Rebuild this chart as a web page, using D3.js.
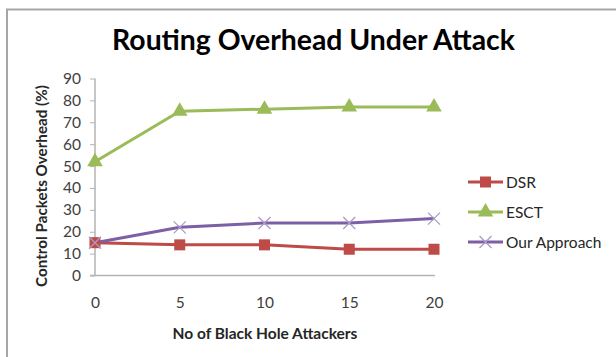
<!DOCTYPE html>
<html><head><meta charset="utf-8">
<script src="https://cdn.jsdelivr.net/npm/d3@7"></script>
<style>body{margin:0;background:#fff}svg{display:block}</style>
</head><body>
<svg id="c" width="616" height="357"></svg>
<script>
const categories = [0, 5, 10, 15, 20];
const dsr = [15, 14, 14, 12, 12];
const esct = [52, 75, 76, 77, 77];
const ourApproach = [15, 22, 24, 24, 26];
const seriesNames = ["DSR", "ESCT", "Our Approach"];
const yTicks = [0, 10, 20, 30, 40, 50, 60, 70, 80, 90];
const titleText = "Routing Overhead Under Attack";
const xTitle = "No of Black Hole Attackers";
const yTitle = "Control Packets Overhead (%)";

const svg = d3.select("#c");
const font = "Lato, 'Open Sans', sans-serif";

// border
svg.append("path").attr("d","M7,357V9.5H616").attr("fill","none")
  .attr("stroke","#a6a6a6").attr("stroke-width",2);

const x = d3.scalePoint().domain(categories).range([95, 434]);
const y = d3.scaleLinear().domain([0, 90]).range([275.5, 78.5]);

function fitText(sel, w){
  const n = sel.node(); let fs = parseFloat(sel.attr("font-size"));
  const l = n.getComputedTextLength();
  sel.attr("font-size", fs * w / l);
}

// title
const t = svg.append("text").attr("x", 313.5).attr("y", 50).attr("text-anchor","middle")
  .attr("font-family", font).attr("font-weight","bold").attr("font-size",24)
  .attr("fill","#000").text(titleText);
fitText(t, 403);

// axes
const yAxis = d3.axisLeft(y).tickValues(yTicks).tickSize(5).tickPadding(9);
const gy = svg.append("g").attr("transform","translate(95,0)").call(yAxis);
gy.select(".domain").attr("stroke","#b3b3b3").attr("stroke-width",1.5).attr("d","M0,78.5V275.5");
gy.selectAll(".tick line").attr("stroke","#b3b3b3");
gy.selectAll(".tick text").attr("font-family",font).attr("font-size",15.5).attr("fill","#404040");

const xAxis = d3.axisBottom(x).tickSize(0).tickPadding(21);
const gx = svg.append("g").attr("transform","translate(0,275.5)").call(xAxis);
gx.select(".domain").attr("stroke","#b3b3b3").attr("stroke-width",1.5).attr("d","M90,0H435");
gx.selectAll(".tick text").attr("font-family",font).attr("font-size",15.5).attr("fill","#404040");

// axis titles
const xt = svg.append("text").attr("x",265).attr("y",339).attr("text-anchor","middle")
  .attr("font-family",font).attr("font-weight","bold").attr("font-size",14).attr("fill","#262626").text(xTitle);
fitText(xt, 185);
const yt = svg.append("text").attr("transform","translate(47,186) rotate(-90)").attr("text-anchor","middle")
  .attr("font-family",font).attr("font-weight","bold").attr("font-size",14).attr("fill","#262626").text(yTitle);
fitText(yt, 202);

const series = [
  {name: seriesNames[0], values: dsr, color:"#BE4B48", marker:"square", mcolor:"#BE4B48"},
  {name: seriesNames[1], values: esct, color:"#9BBB59", marker:"triangle", mcolor:"#9BBB59"},
  {name: seriesNames[2], values: ourApproach, color:"#7D5FA5", marker:"x", mcolor:"#A99BC8"}
];

function drawMarker(g, type, cx, cy, color){
  if(type==="square"){
    g.append("rect").attr("x",cx-5.5).attr("y",cy-5.5).attr("width",11).attr("height",11).attr("fill",color);
  } else if(type==="triangle"){
    g.append("path").attr("d",d3.symbol(d3.symbolTriangle, 105)()).attr("transform",`translate(${cx},${cy})`).attr("fill",color);
  } else {
    g.append("path").attr("d",`M${cx-6},${cy-6}L${cx+6},${cy+6}M${cx-6},${cy+6}L${cx+6},${cy-6}`)
      .attr("stroke",color).attr("stroke-width",1.3).attr("fill","none");
  }
}

const line = d3.line().x((d,i)=>x(categories[i])).y(d=>y(d));
series.forEach(s=>{
  svg.append("path").attr("d",line(s.values)).attr("fill","none").attr("stroke",s.color).attr("stroke-width",3);
});
series.forEach(s=>{
  const g = svg.append("g");
  s.values.forEach((v,i)=>drawMarker(g, s.marker, x(categories[i]), y(v), s.mcolor));
});

// legend
series.forEach((s,i)=>{
  const ly = 182 + i*30;
  svg.append("line").attr("x1",468).attr("x2",503).attr("y1",ly).attr("y2",ly).attr("stroke",s.color).attr("stroke-width",3);
  drawMarker(svg.append("g"), s.marker, 485.5, ly, s.mcolor);
  svg.append("text").attr("x",506).attr("y",ly+5.5).attr("font-family",font).attr("font-size",15.5)
    .attr("fill","#262626").text(s.name);
});
</script>
</body></html>
